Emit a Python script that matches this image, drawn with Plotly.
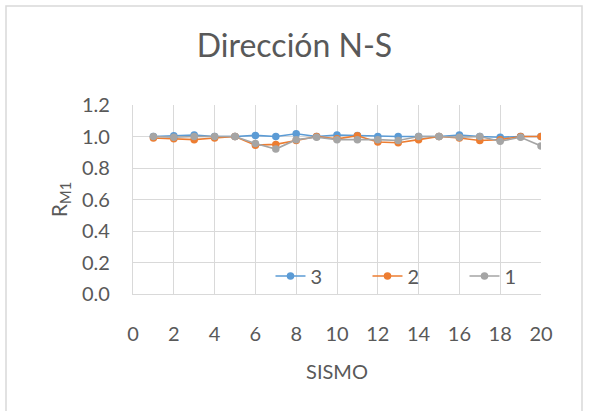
import plotly.graph_objects as go

sismo = list(range(1, 21))
serie_3 = [1.00, 1.005, 1.01, 1.00, 1.00, 1.007, 1.00, 1.017, 1.00, 1.01,
           1.007, 1.00, 1.00, 1.00, 1.00, 1.01, 1.00, 0.995, 1.00, 1.00]
serie_2 = [0.99, 0.985, 0.98, 0.99, 1.00, 0.945, 0.95, 0.975, 1.00, 0.985,
           1.005, 0.965, 0.96, 0.98, 1.00, 0.99, 0.975, 0.98, 1.00, 1.00]
serie_1 = [1.00, 0.995, 1.00, 1.00, 1.00, 0.955, 0.92, 0.98, 0.995, 0.98,
           0.98, 0.98, 0.975, 1.00, 1.00, 0.995, 1.00, 0.97, 0.995, 0.94]

series = [("3", serie_3, "#5B9BD5"), ("2", serie_2, "#ED7D31"), ("1", serie_1, "#A5A5A5")]

FONT = "Lato"
TXT = "#595959"
GRID = "#D9D9D9"

fig = go.Figure()
for name, vals, col in series:
    fig.add_trace(go.Scatter(
        x=sismo, y=vals, name=name, mode="lines+markers",
        line=dict(color=col, width=1.6),
        marker=dict(color=col, size=7.5),
    ))

fig.update_layout(
    width=589, height=411,
    margin=dict(l=133, r=48, t=105, b=117),
    paper_bgcolor="white", plot_bgcolor="white",
    font=dict(family=FONT, color=TXT, size=20),
    title=dict(text="Dirección N-S", x=0.5, xanchor="center", xref="container",
               y=0.888, yanchor="middle", font=dict(size=32, color=TXT, family=FONT)),
    showlegend=True,
    legend=dict(orientation="h", x=0.337, xanchor="left", y=0.095, yanchor="middle",
                bgcolor="rgba(0,0,0,0)", font=dict(size=20, color=TXT),
                entrywidth=52, entrywidthmode="pixels", traceorder="normal",
                itemsizing="trace"),
    xaxis=dict(range=[0, 20], dtick=2, tick0=0, showgrid=True, gridcolor=GRID,
               gridwidth=1.3, zeroline=False, showline=True, linecolor=GRID, linewidth=1.3,
               ticks="", tickfont=dict(size=20, color=TXT), ticklabelstandoff=22,
               title=dict(text="SISMO", font=dict(size=20, color=TXT), standoff=20)),
    yaxis=dict(range=[0, 1.2], dtick=0.2, tick0=0, tickformat=".1f", showgrid=True,
               gridcolor=GRID, gridwidth=1.3, zeroline=False, showline=True, linecolor=GRID,
               linewidth=1.3, ticks="", tickfont=dict(size=20, color=TXT), ticklabelstandoff=18,
               title=dict(text="R<sub>M1</sub>", font=dict(size=21, color=TXT), standoff=8)),
    shapes=[dict(type="rect", xref="paper", yref="paper",
                 x0=(6 - 133) / 408, x1=(582 - 133) / 408,
                 y0=(294 - 430) / 189, y1=(294 - 6) / 189,
                 line=dict(color=GRID, width=1.5), fillcolor="rgba(0,0,0,0)", layer="below")],
)

fig.write_html("out.html")
